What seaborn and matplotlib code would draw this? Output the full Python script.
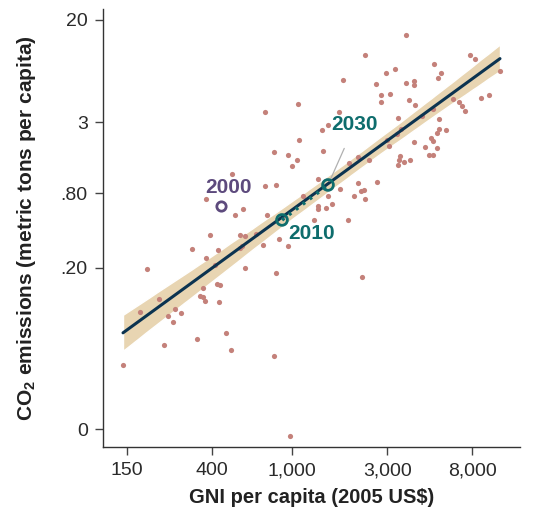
import numpy as np
import matplotlib
matplotlib.use("Agg")
import matplotlib.pyplot as plt
import seaborn as sns

# Country values in log10 units
gni_log = [3.571, 3.366, 3.891, 3.916, 3.711, 3.516, 4.041, 3.471, 3.746, 3.256,
           3.731, 3.611, 3.421, 3.571, 3.611, 3.491, 3.446, 3.986, 3.946, 3.806,
           3.586, 3.446, 3.836, 3.031, 3.616, 3.851, 3.706, 3.866, 2.866, 3.236,
           3.651, 3.531, 3.736, 3.181, 3.546, 3.736, 3.151, 3.771, 3.726, 3.526,
           3.696, 3.036, 3.476, 3.611, 3.706, 3.486, 3.666, 3.726, 3.156, 2.911,
           2.981, 3.686, 3.706, 3.541, 3.026, 3.286, 3.331, 3.386, 3.536, 3.561,
           3.591, 3.531, 3.001, 2.701, 3.131, 3.426, 3.331, 2.866, 2.921, 3.241,
           3.346, 3.361, 3.311, 3.181, 3.056, 3.366, 2.571, 3.201, 2.756, 3.131,
           3.131, 3.171, 2.716, 2.876, 3.111, 3.281, 2.591, 2.741, 2.766, 2.821,
           2.936, 2.856, 2.981, 2.501, 2.631, 2.741, 2.751, 2.571, 2.276, 2.766,
           2.616, 2.921, 3.351, 2.626, 2.641, 2.556, 2.541, 2.556, 2.566, 2.636,
           2.336, 2.241, 2.416, 2.381, 2.446, 2.406, 2.671, 2.361, 2.526, 2.696,
           2.911, 2.156, 2.991, 2.956]
co2_log = [1.180, 1.018, 1.018, 0.986, 0.946, 0.906, 0.889, 0.873, 0.873, 0.817,
           0.833, 0.809, 0.785, 0.793, 0.777, 0.704, 0.696, 0.696, 0.672, 0.664,
           0.656, 0.639, 0.639, 0.623, 0.615, 0.607, 0.583, 0.567, 0.559, 0.559,
           0.527, 0.510, 0.502, 0.454, 0.422, 0.422, 0.414, 0.414, 0.389, 0.381,
           0.349, 0.333, 0.333, 0.317, 0.325, 0.285, 0.277, 0.268, 0.244, 0.236,
           0.212, 0.212, 0.212, 0.204, 0.172, 0.147, 0.196, 0.172, 0.172, 0.156,
           0.172, 0.131, 0.123, 0.059, 0.018, -0.006, -0.014, -0.038, -0.030, -0.062,
           -0.078, -0.070, -0.119, -0.119, -0.119, -0.143, -0.143, -0.183, -0.223, -0.199,
           -0.223, -0.215, -0.272, -0.272, -0.312, -0.312, -0.433, -0.433, -0.441, -0.425,
           -0.465, -0.514, -0.522, -0.546, -0.554, -0.538, -0.522, -0.619, -0.707, -0.699,
           -0.675, -0.740, -0.772, -0.828, -0.836, -0.861, -0.925, -0.933, -0.965, -0.973,
           -0.949, -1.054, -1.030, -1.086, -1.062, -1.135, -1.223, -1.320, -1.272, -1.361,
           -1.409, -1.482, -2.054, -0.280]

# Highlighted path (log10 units)
years = ["2000", "2010", "2030"]
year_gni_log = [2.646, 2.951, 3.181]
year_co2_log = [-0.199, -0.312, -0.030]

x_ticks = [150, 400, 1000, 3000, 8000]
x_tick_labels = ["150", "400", "1,000", "3,000", "8,000"]
y_ticks = [0.01, 0.2, 0.8, 3, 20]
y_tick_labels = ["0", ".20", ".80", "3", "20"]

sns.set_style("ticks")
plt.rcParams["font.family"] = ["Liberation Sans", "DejaVu Sans"]
plt.rcParams["mathtext.fontset"] = "custom"
plt.rcParams["mathtext.rm"] = "Liberation Sans"
plt.rcParams["mathtext.bf"] = "Liberation Sans:bold"

fig = plt.figure(figsize=(5.44, 5.16), dpi=100)
ax = fig.add_axes([103 / 544, 69 / 516, 417 / 544, 438 / 516])

# scatter + fitted line with confidence band
sns.regplot(x=gni_log, y=co2_log, ax=ax, ci=95, seed=3,
            scatter_kws=dict(s=14, color="#c4817a", linewidths=0, alpha=1),
            line_kws=dict(color="#0b3350", lw=2.2),
            color="#e6d2ac")
# make the band opaque tan
ax.collections[-1].set_alpha(1)
ax.collections[-1].set_facecolor("#e8d5b2")
ax.collections[-1].set_zorder(0.5)

# 2010 -> 2030 dotted path and year markers
ax.plot(year_gni_log[1:], year_co2_log[1:], color="#0e6d6d", lw=2.6,
        ls=(0, (0.8, 1.6)), zorder=4)
ax.scatter(year_gni_log[:1], year_co2_log[:1], s=45, facecolor="white",
           edgecolor="#5d4a7d", linewidth=2, zorder=5)
ax.scatter(year_gni_log[1:], year_co2_log[1:], s=60, facecolor="none",
           edgecolor="#0e6d6d", linewidth=2, zorder=5)

ax.text(year_gni_log[0] + 0.035, year_co2_log[0] + 0.145, years[0], color="#5d4a7d",
        fontsize=15, fontweight="bold", ha="center", va="center")
ax.text(year_gni_log[1] + 0.15, year_co2_log[1] - 0.11, years[1], color="#0e6d6d",
        fontsize=15, fontweight="bold", ha="center", va="center")
ax.annotate(years[2], xy=(year_gni_log[2], year_co2_log[2]),
            xytext=(year_gni_log[2] + 0.135, year_co2_log[2] + 0.49),
            color="#0e6d6d", fontsize=15, fontweight="bold", ha="center", va="center",
            arrowprops=dict(arrowstyle="-", color="#b0b0b0", lw=0.9,
                            shrinkA=9, shrinkB=3))

# axes in log10 units, labelled in real units
ax.set_xlim(2.056, 4.141)
ax.set_ylim(-2.143, 1.389)
ax.set_xticks(np.log10(x_ticks))
ax.set_xticklabels(x_tick_labels)
ax.set_yticks(np.log10(y_ticks))
ax.set_yticklabels(y_tick_labels)
ax.tick_params(labelsize=14, length=6, width=1, color="#444444", labelcolor="#2a2a2a", pad=5)
for s in ["left", "bottom"]:
    ax.spines[s].set_color("#333333")
    ax.spines[s].set_linewidth(1)
sns.despine(ax=ax)

ax.set_xlabel("GNI per capita (2005 US$)", fontsize=14.5, fontweight="bold", color="#222222", labelpad=6)
ax.set_ylabel(r"CO$_\mathbf{2}$ emissions (metric tons per capita)", fontsize=15,
              fontweight="bold", color="#222222", labelpad=16)

plt.savefig("out.png", dpi=100)
